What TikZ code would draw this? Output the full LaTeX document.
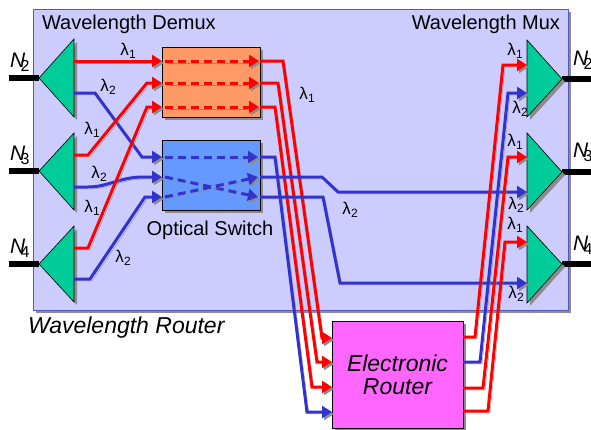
\documentclass[tikz,border=0pt]{standalone}
\usepackage{fontspec}
\setmainfont{Liberation Sans}
\usetikzlibrary{arrows.meta}
\definecolor{lav}{HTML}{CCCCFF}
\definecolor{lavb}{HTML}{5555CC}
\definecolor{tri}{HTML}{00CC99}
\definecolor{org}{HTML}{FF9966}
\definecolor{sw}{HTML}{6699FF}
\definecolor{mag}{HTML}{FF66FF}
\definecolor{rd}{HTML}{FF0000}
\definecolor{bl}{HTML}{3333CC}
\definecolor{shd}{HTML}{8C8C8C}
\newcommand\myfs[1]{\fontsize{#1}{#1}\selectfont}
\newcommand\lam[1]{\myfs{17}λ\kern0.3pt\raisebox{-2.5pt}{\myfs{12}#1}}
\newcommand\nlab[1]{{\myfs{21}\itshape N}\kern-4.5pt\raisebox{-4.5pt}{\myfs{16}#1}}
\begin{document}
\begin{tikzpicture}[x=1pt,y=-1pt,
  shl/.style={preaction={draw=shd,transform canvas={xshift=2pt,yshift=-2pt}}},
  shf/.style={preaction={fill=shd,transform canvas={xshift=3pt,yshift=-3pt}}},
  rw/.style={draw=rd,line width=3pt,shl},
  bw/.style={draw=bl,line width=3pt,shl},
  tip/.style={-{Triangle[length=10pt,width=12pt]}},
  dsh/.style={dash pattern=on 8pt off 5pt},
  boxs/.style={draw=black,line width=0.8pt,shf,inner sep=0,outer sep=0},
  tris/.style={fill=tri,draw=black,line width=0.6pt,shf},
  blk/.style={draw=black,line width=6pt},
  lbl/.style={inner sep=0,outer sep=0},
]
\useasboundingbox (0,0) rectangle (591,429);
\fill[white] (0,0) rectangle (591,429);
% main box
\node[boxs, draw=lavb, line width=1pt, fill=lav, minimum width=535pt, minimum height=301pt] (wr) at (300.5,159.5) {};
\node[lbl, anchor=base west, font=\myfs{20}] (tdm) at (42,29) {Wavelength Demux};
\node[lbl, anchor=base east, font=\myfs{20}] (tmx) at (560,29) {Wavelength Mux};
\node[lbl, anchor=base west, font=\myfs{23}\itshape] (twr) at (28,333) {Wavelength Router};
% input fibres
\coordinate (iN2) at (9,78);  \coordinate (dN2) at (39,78);
\coordinate (iN3) at (9,171); \coordinate (dN3) at (39,171);
\coordinate (iN4) at (9,264); \coordinate (dN4) at (39,264);
\coordinate (oN2) at (591,79);  \coordinate (mN2) at (562,79);
\coordinate (oN3) at (591,172); \coordinate (mN3) at (562,172);
\coordinate (oN4) at (591,264); \coordinate (mN4) at (562,264);
\draw[blk] (iN2) -- (dN2); \draw[blk] (iN3) -- (dN3); \draw[blk] (iN4) -- (dN4);
\draw[blk] (mN2) -- (oN2); \draw[blk] (mN3) -- (oN3); \draw[blk] (mN4) -- (oN4);
% demux triangles
\path[tris] (74,39) -- (74,117) -- (dN2) -- cycle;
\path[tris] (74,133) -- (74,210) -- (dN3) -- cycle;
\path[tris] (74,226) -- (74,302) -- (dN4) -- cycle;
% mux triangles
\path[tris] (527,40) -- (527,117) -- (mN2) -- cycle;
\path[tris] (527,133) -- (527,210) -- (mN3) -- cycle;
\path[tris] (527,226) -- (527,303) -- (mN4) -- cycle;
\node[lbl, anchor=base west] (nl2) at (10,67) {\nlab{2}};
\node[lbl, anchor=base west] (nl3) at (10,160) {\nlab{3}};
\node[lbl, anchor=base west] (nl4) at (10,253) {\nlab{4}};
\node[lbl, anchor=base west] (nr2) at (573,65) {\nlab{2}};
\node[lbl, anchor=base west] (nr3) at (573,157) {\nlab{3}};
\node[lbl, anchor=base west] (nr4) at (573,250) {\nlab{4}};
% boxes
\node[boxs, fill=org, minimum width=98pt, minimum height=70pt] (ob) at (211,82) {};
\node[boxs, fill=sw, minimum width=98pt, minimum height=70pt] (bb) at (211,175) {};
\node[lbl, anchor=base, font=\myfs{20}] (tos) at (210,235) {Optical Switch};
% dashed paths inside boxes
\draw[rw,tip,dsh] (165,61) -- (259,61);
\draw[rw,tip,dsh] (165,83) -- (259,83);
\draw[rw,tip,dsh] (165,107) -- (259,107);
\draw[bw,tip,dsh] (165,157) -- (258,157);
\draw[bw,tip,dsh] (165,177) -- (258,197);
\draw[bw,tip,dsh] (165,197) -- (258,177);
% demux to boxes
\coordinate (d2a) at (74,61);  \coordinate (d2b) at (74,93);
\coordinate (d3a) at (74,155); \coordinate (d3b) at (74,187);
\coordinate (d4a) at (74,248); \coordinate (d4b) at (74,279);
\draw[rw,tip] (d2a) -- (162,61);
\draw[bw,tip] (d2b) -- (95,93) -- (142,157) -- (162,157);
\draw[rw,tip] (d3a) -- (88,155) -- (147,83) -- (162,83);
\draw[bw,tip] (d3b) -- (88,187) .. controls (108,187) and (120,177) .. (143,177) -- (162,177);
\draw[rw,tip] (d4a) -- (88,248) -- (147,107) -- (162,107);
\draw[bw,tip] (d4b) -- (90,279) -- (145,197) -- (162,197);
% router
\node[boxs, fill=mag, minimum width=131pt, minimum height=107pt, align=center,
      font=\myfs{23}\itshape, text depth=0pt] (er) at (397.5,374.5)
      {\baselineskip=30pt Electronic\\Router};
% box outputs
\draw[rw,tip] (260,61) -- (283,61) -- (322,338) -- (332,338);
\draw[rw,tip] (260,83) -- (278,83) -- (317,362) -- (332,362);
\draw[rw,tip] (260,107) -- (275,107) -- (312,387) -- (332,387);
\draw[bw,tip] (260,157) -- (275,157) -- (307,412) -- (332,412);
\coordinate (m3b) at (527,192); \coordinate (m4b) at (527,283);
\draw[bw,tip] (260,177) -- (322,177) -- (338,192) -- (m3b);
\draw[bw,tip] (260,197) -- (323,197) -- (340,283) -- (m4b);
% router outputs
\coordinate (m2a) at (527,65); \coordinate (m2b) at (527,93);
\coordinate (m3a) at (527,157); \coordinate (m4a) at (527,242);
\draw[rw,tip] (463,337) -- (475,337) -- (503,65) -- (m2a);
\draw[bw,tip] (463,362) -- (480,362) -- (508,93) -- (m2b);
\draw[rw,tip] (463,388) -- (483,388) -- (508,157) -- (m3a);
\draw[rw,tip] (463,411) -- (488,411) -- (505,242) -- (m4a);
% wavelength labels
\node[lbl] (l1) at (128,51) {\lam{1}};
\node[lbl] (l2) at (108,87) {\lam{2}};
\node[lbl] (l3) at (92,130) {\lam{1}};
\node[lbl] (l4) at (99,174) {\lam{2}};
\node[lbl] (l5) at (92,208) {\lam{1}};
\node[lbl] (l6) at (123,258) {\lam{2}};
\node[lbl] (l7) at (307,95) {\lam{1}};
\node[lbl] (l8) at (350,210) {\lam{2}};
\node[lbl] (r1) at (515,51) {\lam{1}};
\node[lbl] (r2) at (520,109) {\lam{2}};
\node[lbl] (r3) at (515,142) {\lam{1}};
\node[lbl] (r4) at (516,205) {\lam{2}};
\node[lbl] (r5) at (515,225) {\lam{1}};
\node[lbl] (r6) at (516,294) {\lam{2}};
\end{tikzpicture}
\end{document}
